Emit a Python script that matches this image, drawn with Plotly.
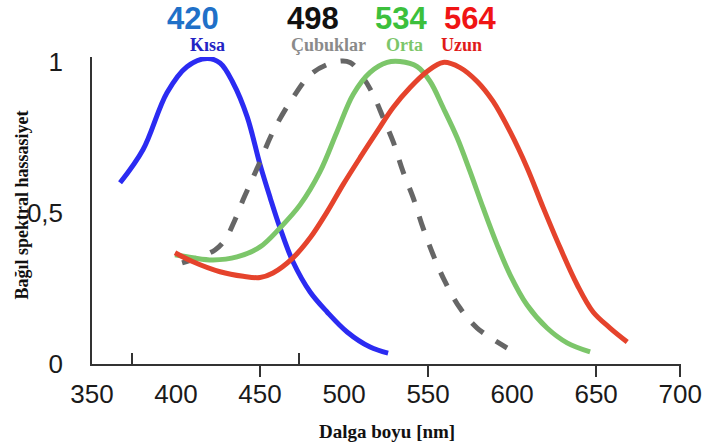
import plotly.graph_objects as go

# ---- data ----
kisa_nm = [366.7, 380.4, 394.6, 406.5, 418.5, 426.2, 433.9, 442.3, 450.0, 456.0, 461.9, 469.6, 479.8, 489.9, 501.8, 515.5, 526.2]
kisa_val = [0.599, 0.709, 0.897, 0.983, 1.01, 0.995, 0.930, 0.818, 0.659, 0.550, 0.450, 0.338, 0.238, 0.172, 0.106, 0.056, 0.036]

cubuk_nm = [403.6, 412.5, 423.2, 429.2, 435.1, 439.9, 445.2, 450.0, 457.7, 469.6, 481.5, 495.8, 503.6, 511.3, 517.3, 523.2, 529.2, 535.1, 541.1, 547.0, 553.0, 560.1, 569.0, 579.2, 597.0]
cubuk_val = [0.334, 0.351, 0.377, 0.411, 0.477, 0.543, 0.609, 0.669, 0.768, 0.881, 0.964, 1.0, 0.997, 0.947, 0.891, 0.815, 0.735, 0.636, 0.550, 0.450, 0.361, 0.272, 0.185, 0.119, 0.053]

orta_nm = [399.4, 410.1, 422.0, 436.3, 450.0, 461.9, 473.8, 485.7, 495.8, 505.4, 515.5, 525.6, 533.3, 543.5, 551.2, 558.9, 567.3, 575.0, 582.7, 591.1, 598.8, 608.9, 620.8, 632.7, 646.4]
orta_val = [0.361, 0.351, 0.344, 0.354, 0.387, 0.450, 0.526, 0.636, 0.768, 0.891, 0.964, 0.997, 1.0, 0.983, 0.934, 0.848, 0.748, 0.636, 0.517, 0.394, 0.295, 0.195, 0.119, 0.070, 0.040]

uzun_nm = [399.4, 410.1, 426.2, 440.0, 450.0, 457.7, 469.6, 479.8, 489.9, 499.4, 509.5, 519.6, 529.2, 539.3, 549.4, 558.9, 569.0, 579.2, 588.7, 598.8, 608.9, 618.5, 628.6, 638.7, 648.2, 658.3, 668.5]
uzun_val = [0.368, 0.338, 0.305, 0.290, 0.286, 0.301, 0.351, 0.417, 0.503, 0.593, 0.682, 0.768, 0.848, 0.914, 0.967, 0.997, 0.980, 0.934, 0.868, 0.768, 0.649, 0.517, 0.384, 0.262, 0.172, 0.119, 0.073]

peak_labels = ["420", "498", "534", "564"]
cone_names = ["Kısa", "Çubuklar", "Orta", "Uzun"]

x_tickvals = [350, 400, 450, 500, 550, 600, 650, 700]
x_ticktext = ["350", "400", "450", "500", "550", "600", "650", "700"]
x_down_ticks = [450, 550, 650, 700]
x_up_ticks = [374, 473]
y_tickvals = [0, 0.5, 1]
y_ticktext = ["0", "0,5", "1"]

x_title = "Dalga boyu [nm]"
y_title = "Bağıl spektral hassasiyet"

# ---- figure ----
fig = go.Figure()
fig.add_trace(go.Scatter(x=kisa_nm, y=kisa_val, mode="lines", line=dict(color="#2b2bf2", width=5, shape="spline", smoothing=1.0), showlegend=False))
fig.add_trace(go.Scatter(x=cubuk_nm, y=cubuk_val, mode="lines", line=dict(color="#666666", width=5, dash="dash", shape="spline", smoothing=1.0), showlegend=False))
fig.add_trace(go.Scatter(x=orta_nm, y=orta_val, mode="lines", line=dict(color="#7cc66a", width=5, shape="spline", smoothing=1.0), showlegend=False))
fig.add_trace(go.Scatter(x=uzun_nm, y=uzun_val, mode="lines", line=dict(color="#e5432c", width=5, shape="spline", smoothing=1.0), showlegend=False))
# invisible trace for the overlay axis carrying the stray upward ticks
fig.add_trace(go.Scatter(x=[None], y=[None], xaxis="x2", showlegend=False, hoverinfo="skip"))

axis_color = "#333333"
fig.update_layout(
    width=704, height=447,
    margin=dict(l=92, r=23, t=57, b=83, autoexpand=False),
    paper_bgcolor="white", plot_bgcolor="white",
    xaxis=dict(
        range=[350, 700.5], tickvals=x_tickvals, ticktext=x_ticktext,
        ticks="", showgrid=False, zeroline=False, automargin=False,
        showline=True, linecolor=axis_color, linewidth=1.5,
        tickfont=dict(family="Liberation Sans, Arial", size=26, color="#1a1a1a"),
        ticklabelstandoff=6,
        minor=dict(tickvals=x_down_ticks, ticks="outside", ticklen=11, tickwidth=2, tickcolor=axis_color),
    ),
    xaxis2=dict(
        overlaying="x", matches="x", side="bottom", anchor="y", automargin=False,
        tickvals=x_up_ticks, ticks="inside", ticklen=11, tickwidth=2, tickcolor=axis_color,
        showticklabels=False, showgrid=False, zeroline=False, showline=False,
    ),
    yaxis=dict(
        range=[0, 1.015], tickvals=y_tickvals, ticktext=y_ticktext,
        ticks="", showgrid=False, zeroline=False, automargin=False,
        showline=True, linecolor=axis_color, linewidth=1.5,
        tickfont=dict(family="Liberation Sans, Arial", size=26, color="#1a1a1a"),
        ticklabelstandoff=22,
    ),
)

num_colors = ["#2070c8", "#111111", "#3cc03c", "#f01414"]
num_x = [0.172, 0.376, 0.524, 0.641]
name_colors = ["#2323c4", "#8a8a8a", "#7cc66a", "#e01a1a"]
name_x = [0.196, 0.401, 0.531, 0.628]

for t, c, x in zip(peak_labels, num_colors, num_x):
    fig.add_annotation(text=f"<b>{t}</b>", x=x, y=1.126, xref="paper", yref="paper",
                       showarrow=False, xanchor="center", yanchor="middle",
                       font=dict(family="Liberation Sans, Arial", size=31, color=c))
for t, c, x in zip(cone_names, name_colors, name_x):
    fig.add_annotation(text=f"<b>{t}</b>", x=x, y=1.038, xref="paper", yref="paper",
                       showarrow=False, xanchor="center", yanchor="middle",
                       font=dict(family="Liberation Serif, Times New Roman", size=18, color=c))

fig.add_annotation(text=f"<b>{x_title}</b>", x=0.5, y=-0.219, xref="paper", yref="paper",
                   showarrow=False, xanchor="center", yanchor="middle",
                   font=dict(family="Liberation Serif, Times New Roman", size=19, color="#111111"))
fig.add_annotation(text=f"<b>{y_title}</b>", x=-0.119, y=0.519, xref="paper", yref="paper",
                   showarrow=False, xanchor="center", yanchor="middle", textangle=-90,
                   font=dict(family="Liberation Serif, Times New Roman", size=18, color="#111111"))

fig.write_html("out.html", config={"displayModeBar": False},
               post_script="document.body.style.margin='0';document.body.style.padding='0';")
